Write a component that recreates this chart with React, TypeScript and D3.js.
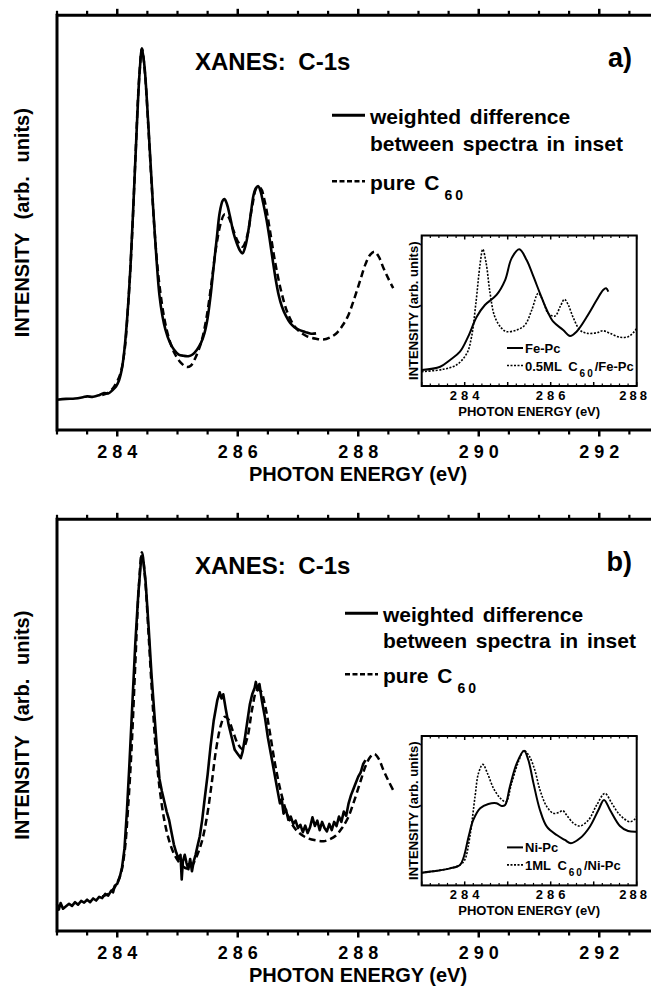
import React from 'react';
import * as d3 from 'd3';

const W = 651;
const H = 987;

// ---------- main panels: pure C60 (dashed) ----------
const c60E = [283.75, 283.85, 283.95, 284.05, 284.12, 284.18, 284.24, 284.30, 284.36, 284.41, 284.46, 284.52, 284.58, 284.64, 284.70, 284.78, 284.86, 284.95, 285.05, 285.15, 285.22, 285.30, 285.40, 285.48, 285.56, 285.64, 285.72, 285.78, 285.84, 285.92, 286.00, 286.08, 286.16, 286.24, 286.32, 286.38, 286.45, 286.53, 286.62, 286.72, 286.82, 286.92, 287.02, 287.15, 287.30, 287.42, 287.53, 287.63, 287.73, 287.83, 287.93, 288.03, 288.12, 288.20, 288.27, 288.34, 288.42, 288.50, 288.58];
const c60I = [8.4, 9.0, 10.5, 13.5, 19, 30, 45, 65, 84, 92, 86, 72, 57, 44, 35, 27, 22, 18.5, 16.3, 15.2, 15.5, 17.5, 21.5, 27, 35, 44, 50, 52, 51.5, 48.5, 45.5, 44.2, 47, 54, 58.5, 58.3, 55, 48.5, 40.5, 33.5, 28.5, 25.5, 23.8, 22.6, 22, 21.8, 22.3, 23.2, 25, 27.5, 31.5, 36, 40, 42.3, 43, 41.8, 39, 36.5, 34.2];

// ---------- panel a: weighted difference (solid) ----------
const aDiffE = [283.00, 283.15, 283.30, 283.43, 283.50, 283.60, 283.70, 283.78, 283.85, 283.92, 283.98, 284.03, 284.08, 284.12, 284.17, 284.22, 284.27, 284.32, 284.37, 284.41, 284.45, 284.49, 284.55, 284.60, 284.65, 284.70, 284.75, 284.80, 284.87, 284.94, 285.02, 285.10, 285.18, 285.25, 285.32, 285.39, 285.45, 285.50, 285.55, 285.60, 285.65, 285.70, 285.75, 285.78, 285.82, 285.87, 285.93, 285.98, 286.04, 286.08, 286.13, 286.18, 286.22, 286.26, 286.30, 286.34, 286.38, 286.42, 286.48, 286.53, 286.58, 286.63, 286.68, 286.73, 286.80, 286.87, 286.94, 287.01, 287.08, 287.15, 287.22, 287.30];
const aDiffI = [7.3, 7.5, 7.6, 7.9, 8.1, 8.0, 8.4, 8.9, 8.8, 9.6, 10.5, 12, 15, 19.5, 28, 39.5, 55, 71.5, 86, 92, 88, 80, 65, 52.5, 41.5, 32.5, 27.5, 24.2, 21.2, 19.4, 18.2, 17.9, 17.8, 18.2, 19.3, 21, 23.5, 27, 32.5, 39.4, 46, 52.4, 55.3, 55.7, 54.5, 51.6, 47.5, 45.2, 43.2, 42.6, 44.5, 48.4, 52.5, 56.5, 58.3, 58.8, 57.5, 54.9, 50.5, 46, 41, 36.3, 32.5, 29.9, 27.5, 25.8, 24.8, 24.2, 23.8, 23.5, 23.2, 23.3];

// ---------- panel b: weighted difference (solid, noisy) ----------
const bDiffE = [283.00, 283.03, 283.06, 283.10, 283.15, 283.20, 283.25, 283.30, 283.35, 283.40, 283.45, 283.50, 283.55, 283.60, 283.65, 283.70, 283.75, 283.80, 283.85, 283.90, 283.93, 283.96, 284.00, 284.04, 284.08, 284.12, 284.16, 284.20, 284.25, 284.30, 284.35, 284.40, 284.43, 284.47, 284.52, 284.57, 284.62, 284.66, 284.70, 284.74, 284.78, 284.82, 284.86, 284.90, 284.94, 284.98, 285.02, 285.05, 285.07, 285.09, 285.12, 285.15, 285.18, 285.21, 285.24, 285.27, 285.30, 285.33, 285.37, 285.41, 285.45, 285.50, 285.55, 285.60, 285.66, 285.70, 285.73, 285.76, 285.80, 285.85, 285.90, 285.95, 286.00, 286.05, 286.08, 286.12, 286.16, 286.20, 286.24, 286.28, 286.30, 286.33, 286.36, 286.40, 286.45, 286.50, 286.55, 286.60, 286.65, 286.70, 286.73, 286.76, 286.80, 286.84, 286.88, 286.92, 286.96, 287.00, 287.04, 287.08, 287.12, 287.16, 287.20, 287.24, 287.28, 287.32, 287.36, 287.40, 287.44, 287.48, 287.52, 287.56, 287.60, 287.64, 287.68, 287.72, 287.76, 287.80, 287.84, 287.88, 287.92, 287.96, 288.00, 288.04, 288.08, 288.12];
const bDiffI = [6.5, 5.2, 6.8, 5.4, 6.0, 6.6, 6.1, 7.0, 6.4, 7.3, 6.9, 7.6, 7.0, 7.9, 7.4, 8.3, 8.0, 9.0, 8.6, 9.8, 9.4, 11.0, 11.5, 13.0, 15.5, 20, 29, 40, 55, 70, 82, 91, 90.5, 85, 74, 62, 52, 44, 37, 34, 31.5, 29, 27, 24, 21, 19, 17.5, 18.5, 12.5, 17, 18.5, 16.5, 15.0, 17.5, 14.5, 17.0, 18.5, 20.5, 23, 27, 32, 38, 45, 51, 56, 58, 56.5, 57.5, 54, 50, 47, 44, 43, 42, 43.5, 47, 51, 55, 57.5, 59, 60.5, 58.5, 60, 56, 52, 47, 43, 39, 35, 31, 32, 28.5, 29.5, 27, 27.8, 26, 26.8, 25, 25.8, 24, 25.6, 23.8, 25.2, 27.6, 25.5, 26.8, 24.5, 26.5, 25, 24.2, 26, 24.5, 26.5, 25.5, 27.8, 26.5, 29, 28, 31, 33, 34.5, 36, 37.5, 38.5, 40.5, 41.5];

// ---------- inset a ----------
const inAFeE = [283.0, 283.43, 283.66, 283.89, 284.08, 284.28, 284.47, 284.74, 284.94, 285.09, 285.27, 285.44, 285.60, 285.75, 285.91, 286.06, 286.29, 286.45, 286.60, 286.84, 287.07, 287.22, 287.29, 287.34];
const inAFeI = [10.6, 12.8, 17.3, 22.8, 32.8, 46.0, 53.8, 60.5, 70.4, 84.8, 90.8, 83.7, 72.6, 61.6, 50.5, 42.7, 37.2, 33.2, 36.1, 46.0, 57.1, 63.8, 64.9, 62.7];
const inAC60E = [283.0, 283.50, 283.81, 284.05, 284.16, 284.26, 284.36, 284.42, 284.50, 284.59, 284.70, 284.86, 284.98, 285.21, 285.40, 285.56, 285.71, 285.83, 285.94, 286.10, 286.22, 286.32, 286.41, 286.53, 286.68, 286.84, 287.07, 287.22, 287.38, 287.61, 287.80, 287.92, 288.0];
const inAC60I = [9.5, 11.1, 14.0, 21.7, 32.8, 55.0, 81.5, 90.8, 81.5, 61.6, 46.0, 38.3, 36.1, 37.2, 40.5, 50.5, 61.6, 56.0, 48.3, 46.5, 52.7, 57.6, 53.8, 45.0, 37.2, 35.0, 35.4, 36.7, 35.0, 32.4, 32.8, 35.4, 38.3];

// ---------- inset b ----------
const inBNiE = [283.0, 283.35, 283.66, 283.89, 283.98, 284.09, 284.20, 284.36, 284.55, 284.74, 284.86, 284.94, 285.05, 285.21, 285.38, 285.48, 285.60, 285.75, 285.91, 286.14, 286.33, 286.47, 286.68, 286.91, 287.11, 287.24, 287.38, 287.61, 287.80, 288.0];
const inBNiI = [8.5, 9.8, 11.4, 13.7, 19.2, 32.6, 43.8, 51.6, 54.5, 55.0, 53.1, 53.8, 66.1, 81.7, 90.2, 83.9, 68.3, 50.5, 39.3, 33.7, 30.4, 28.2, 31.5, 39.3, 50.5, 57.2, 50.5, 39.8, 36.4, 35.9];
const inBC60E = [283.0, 283.35, 283.66, 283.89, 284.0, 284.12, 284.24, 284.32, 284.42, 284.53, 284.67, 284.83, 284.96, 285.09, 285.25, 285.38, 285.50, 285.63, 285.75, 285.91, 286.06, 286.18, 286.28, 286.37, 286.53, 286.68, 286.88, 287.07, 287.26, 287.42, 287.61, 287.84, 287.95, 288.0];
const inBC60I = [8.5, 9.8, 11.4, 13.7, 17, 32.6, 59.4, 75.0, 81.0, 75.0, 65.0, 58.3, 56.0, 68.3, 82.8, 90.2, 86.6, 77.2, 63.9, 52.7, 48.3, 48.7, 50.0, 47.1, 41.6, 39.8, 43.8, 53.8, 61.6, 55.0, 47.1, 42.6, 44.2, 46];

const mainMajorTicks = [284, 286, 288, 290, 292];
const insetMajorTicks = [284, 286, 288];

const FONT = "'Liberation Sans', Arial, Helvetica, sans-serif";

type Pt = [number, number];
const zip = (e: number[], i: number[]): Pt[] => e.map((v, k) => [v, i[k]] as Pt);

function MainPanel({ top, bottom, label, diffE, diffI, smooth, leg }: any) {
  const x = d3.scaleLinear().domain([283, 293]).range([57, 659.5]);
  const y = d3.scaleLinear().domain([0, 100]).range([bottom, top]);
  const mk = (curve: any) => d3.line<Pt>().x(d => x(d[0])).y(d => y(d[1])).curve(curve);
  const smoothLine = mk(d3.curveCatmullRom.alpha(0.5));
  const diffLine = smooth ? smoothLine : mk(d3.curveLinear);
  const minor = d3.range(283, 293.01, 0.5).filter(v => !mainMajorTicks.includes(v));
  return (
    <g>
      <path d={smoothLine(zip(c60E, c60I)) || ''} fill="none" stroke="#000" strokeWidth={2.5} strokeDasharray="7 4" />
      <path d={diffLine(zip(diffE, diffI)) || ''} fill="none" stroke="#000" strokeWidth={2.6} strokeLinejoin="round" />
      <line x1={57} x2={W + 10} y1={top} y2={top} stroke="#000" strokeWidth={3} />
      <line x1={57} x2={W + 10} y1={bottom} y2={bottom} stroke="#000" strokeWidth={3} />
      <line x1={57} x2={57} y1={top - 1.5} y2={bottom + 1.5} stroke="#000" strokeWidth={3} />
      {mainMajorTicks.map(t => (
        <g key={'M' + t}>
          <line x1={x(t)} x2={x(t)} y1={top} y2={top - 6.5} stroke="#000" strokeWidth={2.5} />
          <line x1={x(t)} x2={x(t)} y1={bottom} y2={bottom + 6.5} stroke="#000" strokeWidth={2.5} />
          <text x={x(t) + 2.5} y={bottom + 28} textAnchor="middle" fontFamily={FONT} fontWeight="bold" fontSize={18} letterSpacing={5}>{t}</text>
        </g>
      ))}
      {minor.map(t => (
        <g key={'m' + t}>
          <line x1={x(t)} x2={x(t)} y1={top} y2={top - 4.5} stroke="#000" strokeWidth={2.2} />
          <line x1={x(t)} x2={x(t)} y1={bottom} y2={bottom + 4.5} stroke="#000" strokeWidth={2.2} />
        </g>
      ))}
      <text x={358} y={bottom + 51} textAnchor="middle" fontFamily={FONT} fontWeight="bold" fontSize={20}>PHOTON ENERGY (eV)</text>
      <text transform={`translate(29,${(top + bottom) / 2}) rotate(-90)`} textAnchor="middle" fontFamily={FONT} fontWeight="bold" fontSize={20} wordSpacing={8}>INTENSITY (arb. units)</text>
      <text x={195} y={top + 55} fontFamily={FONT} fontWeight="bold" fontSize={24} wordSpacing={6}>XANES: C-1s</text>
      <text x={632} y={top + 52} textAnchor="end" fontFamily={FONT} fontWeight="bold" fontSize={27}>{label}</text>
      <line x1={leg.x0} x2={leg.x0 + 33} y1={top + leg.dy} y2={top + leg.dy} stroke="#000" strokeWidth={3} />
      <text x={leg.x0 + 38} y={top + leg.dy + 9} fontFamily={FONT} fontWeight="bold" fontSize={21} wordSpacing={3}>weighted difference</text>
      <text x={leg.x0 + 38} y={top + leg.dy + 9 + leg.l2} fontFamily={FONT} fontWeight="bold" fontSize={21} wordSpacing={3}>between spectra in inset</text>
      <line x1={leg.x0} x2={leg.x0 + 33} y1={top + leg.dy + leg.d3} y2={top + leg.dy + leg.d3} stroke="#000" strokeWidth={2.5} strokeDasharray="5 2.5" />
      <text x={leg.x0 + 38} y={top + leg.dy + leg.d3 + 9} fontFamily={FONT} fontWeight="bold" fontSize={21} wordSpacing={3}>
        pure C<tspan dx={5} dy={10} fontSize={14} letterSpacing={3}>60</tspan>
      </text>
    </g>
  );
}

function Inset({ top, bottom, solidE, solidI, dotE, dotI, solidName, dotPre, dotPost }: any) {
  const left = 421.7, right = 636.7;
  const x = d3.scaleLinear().domain([283, 288]).range([left, right]);
  const y = d3.scaleLinear().domain([0, 100]).range([bottom, top]);
  const line = d3.line<Pt>().x(d => x(d[0])).y(d => y(d[1])).curve(d3.curveCatmullRom.alpha(0.5));
  const minor = d3.range(283, 288.001, 0.2).map(v => Math.round(v * 10) / 10).filter(v => Math.abs(v - Math.round(v)) > 0.01);
  const majorAll = d3.range(283, 289, 1);
  const id = 'clip' + Math.round(top);
  return (
    <g>
      <defs>
        <clipPath id={id}><rect x={left} y={top} width={right - left} height={bottom - top} /></clipPath>
      </defs>
      <rect x={left} y={top} width={right - left} height={bottom - top} fill="#fff" />
      <g clipPath={`url(#${id})`}>
        <path d={line(zip(dotE, dotI)) || ''} fill="none" stroke="#000" strokeWidth={1.6} strokeDasharray="2 1.5" />
        <path d={line(zip(solidE, solidI)) || ''} fill="none" stroke="#000" strokeWidth={2} />
      </g>
      {majorAll.map(t => (
        <g key={'I' + t}>
          <line x1={x(t)} x2={x(t)} y1={top} y2={top + 4} stroke="#000" strokeWidth={1.5} />
          <line x1={x(t)} x2={x(t)} y1={bottom} y2={bottom - 4} stroke="#000" strokeWidth={1.5} />
        </g>
      ))}
      {minor.map(t => (
        <g key={'i' + t}>
          <line x1={x(t)} x2={x(t)} y1={top} y2={top + 2.5} stroke="#000" strokeWidth={1.2} />
          <line x1={x(t)} x2={x(t)} y1={bottom} y2={bottom - 2.5} stroke="#000" strokeWidth={1.2} />
        </g>
      ))}
      <rect x={left} y={top} width={right - left} height={bottom - top} fill="none" stroke="#000" strokeWidth={2} />
      {insetMajorTicks.map(t => (
        <text key={'l' + t} x={t === 288 ? 650 : x(t) + 2} y={bottom + 14} textAnchor={t === 288 ? 'end' : 'middle'} fontFamily={FONT} fontWeight="bold" fontSize={13} letterSpacing={t === 288 ? 3 : 4}>{t}</text>
      ))}
      <text x={(left + right) / 2} y={bottom + 30} textAnchor="middle" fontFamily={FONT} fontWeight="bold" fontSize={13}>PHOTON ENERGY (eV)</text>
      <text transform={`translate(418,${(top + bottom) / 2}) rotate(-90)`} textAnchor="middle" fontFamily={FONT} fontWeight="bold" fontSize={13}>INTENSITY (arb. units)</text>
      <line x1={507} x2={523} y1={bottom - 38} y2={bottom - 38} stroke="#000" strokeWidth={2} />
      <text x={525} y={bottom - 33} fontFamily={FONT} fontWeight="bold" fontSize={13}>{solidName}</text>
      <line x1={507} x2={523} y1={bottom - 20.5} y2={bottom - 20.5} stroke="#000" strokeWidth={1.6} strokeDasharray="2 1.5" />
      <text x={525} y={bottom - 15.5} fontFamily={FONT} fontWeight="bold" fontSize={13} wordSpacing={3}>
        {dotPre}<tspan dx={2} dy={6} fontSize={10} letterSpacing={2}>60</tspan><tspan dy={-6}>{dotPost}</tspan>
      </text>
    </g>
  );
}

export default function App() {
  return (
    <svg width={W} height={H} viewBox={`0 0 ${W} ${H}`} style={{ position: 'absolute', left: 0, top: 0, background: '#fff' }}>
      <rect width={W} height={H} fill="#fff" />
      <MainPanel top={15.3} bottom={430} label="a)" diffE={aDiffE} diffI={aDiffI} smooth={true}
        leg={{ x0: 332, dy: 100, l2: 27, d3: 66 }} />
      <MainPanel top={519.3} bottom={931} label="b)" diffE={bDiffE} diffI={bDiffI} smooth={false}
        leg={{ x0: 345, dy: 94, l2: 26, d3: 61 }} />
      <Inset top={235.5} bottom={386} solidE={inAFeE} solidI={inAFeI} dotE={inAC60E} dotI={inAC60I}
        solidName="Fe-Pc" dotPre="0.5ML C" dotPost="/Fe-Pc" />
      <Inset top={736} bottom={885.4} solidE={inBNiE} solidI={inBNiI} dotE={inBC60E} dotI={inBC60I}
        solidName="Ni-Pc" dotPre="1ML C" dotPost="/Ni-Pc" />
    </svg>
  );
}
